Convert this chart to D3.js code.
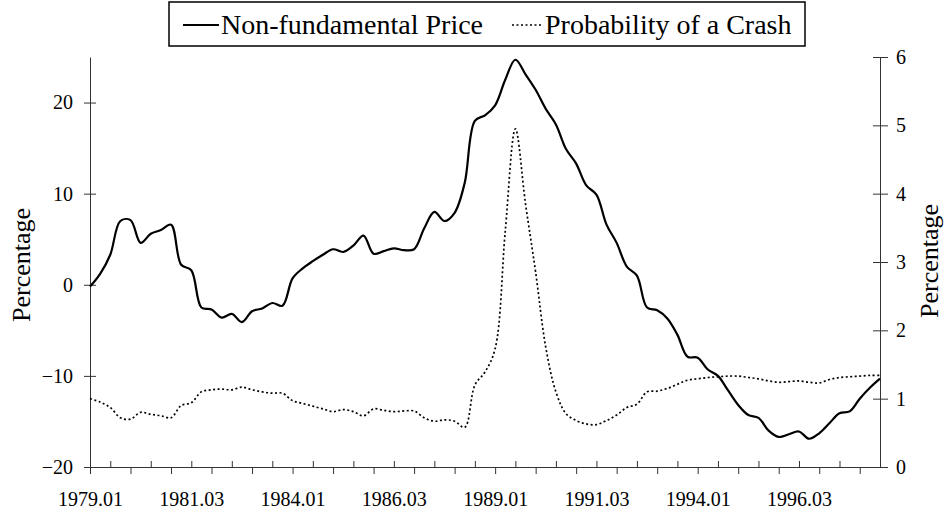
<!DOCTYPE html>
<meta charset="utf-8">

<!-- Load d3.js -->
<script src="https://d3js.org/d3.v7.min.js"></script>

<style>
  body { margin: 0; background: #fff; }
  text { font-family: "Liberation Serif", "Times New Roman", serif; fill: #000; }
</style>

<!-- Create a div where the graph will take place -->
<div id="my_dataviz"></div>

<script>

// quarterly categories, 1979.01 .. 1998.03
var startYear = 1979, nQuarters = 79;
var quarters = [];
for (var i = 0; i < nQuarters; i++) {
  quarters.push((startYear + Math.floor(i / 4)) + ".0" + (i % 4 + 1));
}

var tickLabels = ["1979.01", "1981.03", "1984.01", "1986.03", "1989.01", "1991.03", "1994.01", "1996.03"];
var leftTicks = [-20, -10, 0, 10, 20];
var rightTicks = [0, 1, 2, 3, 4, 5, 6];

// Non-fundamental Price (left axis, %)
var priceValues = [
  -0.2, 1.2, 3.3, 7.0, 7.1, 4.6, 5.6, 6.0, 6.6, 2.2,
  1.6, -2.5, -2.7, -3.6, -3.2, -4.1, -2.9, -2.6, -2.0, -2.3,
  0.7, 1.8, 2.6, 3.3, 3.9, 3.6, 4.3, 5.4, 3.4, 3.7,
  4.0, 3.8, 3.9, 6.2, 8.0, 7.0, 7.9, 11.2, 18.0, 18.6,
  19.7, 22.5, 24.7, 23.1, 21.4, 19.3, 17.6, 14.9, 13.3, 10.9,
  9.9, 6.6, 4.6, 2.0, 1.0, -2.5, -2.8, -3.7, -5.5, -7.9,
  -8.0, -9.3, -10.0, -11.6, -13.2, -14.3, -14.6, -16.0, -16.7, -16.4,
  -16.1, -16.9, -16.3, -15.2, -14.1, -13.9, -12.5, -11.3, -10.3
];

// Probability of a Crash (right axis, %)
var crashValues = [
  1.00, 0.95, 0.87, 0.72, 0.70, 0.80, 0.77, 0.75, 0.72, 0.90,
  0.94, 1.10, 1.13, 1.14, 1.13, 1.17, 1.13, 1.10, 1.08, 1.08,
  0.97, 0.93, 0.89, 0.85, 0.81, 0.84, 0.81, 0.75, 0.85, 0.83,
  0.81, 0.82, 0.82, 0.72, 0.67, 0.69, 0.67, 0.58, 1.20, 1.39,
  1.73, 3.45, 4.95, 3.85, 2.85, 1.75, 1.10, 0.78, 0.68, 0.63,
  0.62, 0.68, 0.76, 0.87, 0.92, 1.10, 1.11, 1.15, 1.21, 1.27,
  1.29, 1.31, 1.32, 1.33, 1.33, 1.31, 1.29, 1.26, 1.24, 1.25,
  1.26, 1.24, 1.23, 1.28, 1.31, 1.32, 1.33, 1.34, 1.34
];

var W = 948, H = 512;
var plotLeft = 90, plotRight = 880, plotTop = 57, plotBottom = 467;

var svg = d3.select("#my_dataviz")
  .append("svg")
    .attr("width", W)
    .attr("height", H);

// scales
var x = d3.scalePoint()
  .domain(quarters)
  .range([plotLeft, plotRight]);

var yL = d3.scaleLinear()
  .domain([-20, 25])
  .range([plotBottom, plotTop]);

var yR = d3.scaleLinear()
  .domain([0, 6])
  .range([plotBottom, plotTop]);

// left axis, ticks crossing the line
var gL = svg.append("g")
  .attr("transform", "translate(" + plotLeft + ",0)")
  .call(d3.axisLeft(yL).tickValues(leftTicks).tickFormat(d3.format("d"))
    .tickSize(6).tickSizeOuter(0).tickPadding(11));
gL.selectAll(".tick line").attr("x1", 6).attr("x2", -6);
gL.selectAll("text").style("font-size", "20px");

// right axis
var gR = svg.append("g")
  .attr("transform", "translate(" + plotRight + ",0)")
  .call(d3.axisRight(yR).tickValues(rightTicks).tickFormat(d3.format("d"))
    .tickSize(8).tickSizeOuter(0).tickPadding(8));
gR.selectAll(".tick line").attr("x1", -7).attr("x2", 8);
gR.selectAll("text").style("font-size", "20px");

// x axis: ticks every two quarters, alternating below and above
svg.append("g")
  .attr("transform", "translate(0," + plotBottom + ")")
  .call(d3.axisBottom(x)
    .tickValues(quarters.filter(function(d, i) { return i % 4 === 0; }))
    .tickSize(7).tickSizeOuter(0).tickFormat(""));

svg.append("g")
  .attr("transform", "translate(0," + plotBottom + ")")
  .call(d3.axisTop(x)
    .tickValues(quarters.filter(function(d, i) { return i % 4 === 2; }))
    .tickSize(6).tickSizeOuter(0).tickFormat(""))
  .select(".domain").remove();

var gXlab = svg.append("g")
  .attr("transform", "translate(0," + plotBottom + ")")
  .call(d3.axisBottom(x).tickValues(tickLabels).tickSize(0).tickPadding(25));
gXlab.select(".domain").remove();
gXlab.selectAll("text").style("font-size", "20px");

svg.selectAll(".domain, .tick line").attr("stroke", "#333");

// axis titles
svg.append("text")
  .attr("transform", "translate(30,265) rotate(-90)")
  .attr("text-anchor", "middle")
  .style("font-size", "26px")
  .text("Percentage");

svg.append("text")
  .attr("transform", "translate(938,261) rotate(-90)")
  .attr("text-anchor", "middle")
  .style("font-size", "26px")
  .text("Percentage");

// lines
var priceLine = d3.line()
  .x(function(d, i) { return x(quarters[i]); })
  .y(function(d) { return yL(d); })
  .curve(d3.curveCatmullRom.alpha(0.5));

var crashLine = d3.line()
  .x(function(d, i) { return x(quarters[i]); })
  .y(function(d) { return yR(d); })
  .curve(d3.curveCatmullRom.alpha(0.5));

svg.append("path")
  .datum(crashValues)
  .attr("fill", "none")
  .attr("stroke", "#000")
  .attr("stroke-width", 1.7)
  .attr("stroke-dasharray", "2,2.5")
  .attr("d", crashLine);

svg.append("path")
  .datum(priceValues)
  .attr("fill", "none")
  .attr("stroke", "#000")
  .attr("stroke-width", 2.2)
  .attr("d", priceLine);

// legend
var legend = svg.append("g");
legend.append("rect")
  .attr("x", 169).attr("y", 2)
  .attr("width", 636).attr("height", 44)
  .attr("fill", "#fff")
  .attr("stroke", "#000")
  .attr("stroke-width", 1.5);

legend.append("line")
  .attr("x1", 183).attr("x2", 219)
  .attr("y1", 25).attr("y2", 25)
  .attr("stroke", "#000").attr("stroke-width", 1.8);
legend.append("text")
  .attr("x", 221).attr("y", 34)
  .style("font-size", "28px")
  .text("Non-fundamental Price");

legend.append("line")
  .attr("x1", 512).attr("x2", 542)
  .attr("y1", 25).attr("y2", 25)
  .attr("stroke", "#000").attr("stroke-width", 1.7)
  .attr("stroke-dasharray", "2,2.5");
legend.append("text")
  .attr("x", 545).attr("y", 34)
  .style("font-size", "28px")
  .text("Probability of a Crash");

</script>
